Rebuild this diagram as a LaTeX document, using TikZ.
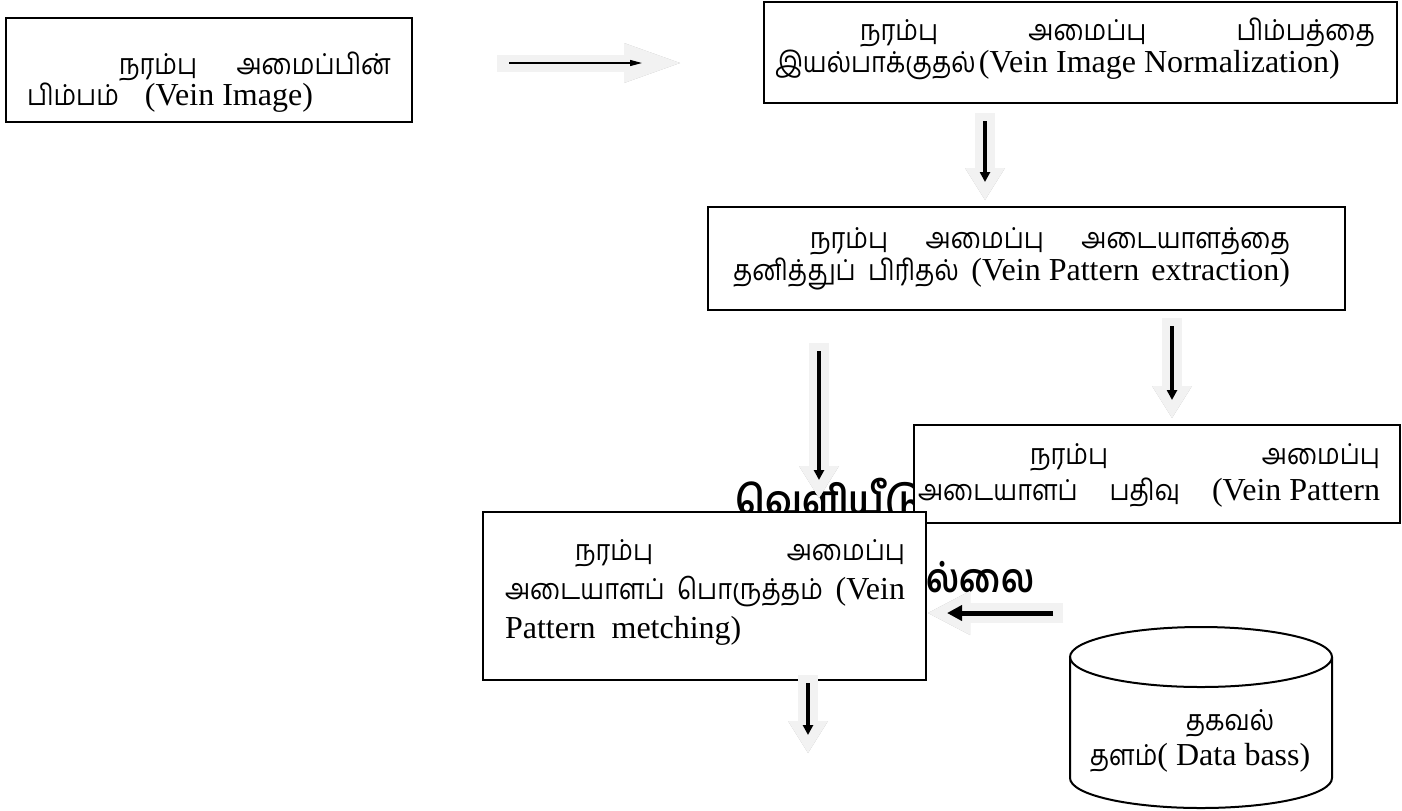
\documentclass[tikz,border=0pt]{standalone}
\usepackage{fontspec}
\usetikzlibrary{arrows.meta}
\setmainfont{Liberation Serif}
\newfontfamily\tamilfont[Script=Tamil,Scale=0.9,FakeStretch=0.88]{Hind Madurai}
\newfontfamily\tamilbig[Script=Tamil,FakeStretch=0.9]{Hind Madurai}
\newcommand\ta[1]{{\tamilfont #1}}
% box text: width, height, left skip, right skip, first baseline, line skip, text
\newcommand\boxtext[7]{\parbox[c][#2][t]{#1}{\fontsize{16}{#6}\selectfont
  \lineskiplimit=-50pt\leftskip=#3\rightskip=#4\relax
  \rule{0pt}{#5}#7}}

\begin{document}
\begin{tikzpicture}[
  x = 0.5pt, y = -0.5pt,
  stage/.style = {
    draw = black,
    line width = 1pt,
    fill = white,
    inner sep = 0pt,
    outer sep = 0pt,
  },
  fat/.style = {
    line width = 10pt,
    draw = black!5,
    -{Triangle[length=16pt, width=20pt, line width=0pt]},
  },
  fatshade/.style = {fat, draw = black!30, shift = {(3, 3)}},
  core/.style = {
    line width = 1.8pt,
    -{Triangle[length=5pt, width=5pt]},
    shorten <= 4pt, shorten >= 9pt,
  }
]
  \useasboundingbox (0, 0) rectangle (1402, 810);

  % text under the boxes
  \node[anchor = north west, inner sep = 0pt, align = left,
    font = \tamilbig\bfseries\fontsize{20}{39}\selectfont] (noout) at (735, 478)
    {வெளியீடு\\\hspace*{77pt}\scalebox{0.92}[1]{இல்லை}};

  \node[stage] (img) at (209, 70)
    {\boxtext{203pt}{52pt}{10.5pt}{10.5pt}{28pt}{15.5pt}{%
      \hspace*{46pt}\ta{நரம்பு}\hfill\ta{அமைப்பின்}\\
      \ta{பிம்பம்}\hspace{13pt}(Vein Image)}};
  \node[stage] (norm) at (1080.5, 52.5)
    {\boxtext{316.5pt}{50.5pt}{5.5pt}{11pt}{19pt}{16pt}{%
      \hspace*{42.5pt}\ta{நரம்பு}\hfill\ta{அமைப்பு}\hfill\ta{பிம்பத்தை}\\
      \ta{இயல்பாக்குதல்}\hspace{1.5pt}(Vein Image Normalization)}};
  \node[stage] (extr) at (1026.5, 258.5)
    {\boxtext{318.5pt}{51.5pt}{12.5pt}{27.5pt}{20.5pt}{16pt}{%
      \hspace*{38.5pt}\ta{நரம்பு}\hfill\ta{அமைப்பு}\hfill\ta{அடையாளத்தை}\\
      \ta{தனித்துப்}\hfill\ta{பிரிதல்}\hfill(Vein Pattern\hspace{6pt}extraction)}};
  \node[stage] (enrol) at (1157, 474)
    {\boxtext{243pt}{49pt}{2pt}{10pt}{19.5pt}{18pt}{%
      \hspace*{56pt}\ta{நரம்பு}\hfill\ta{அமைப்பு}\\
      \ta{அடையாளப்}\hfill\ta{பதிவு}\hfill(Vein Pattern}};
  \node[stage] (match) at (704.5, 596)
    {\boxtext{221.5pt}{84pt}{11pt}{10.5pt}{24pt}{19.5pt}{%
      \hspace*{35pt}\ta{நரம்பு}\hfill\ta{அமைப்பு}\\
      \ta{அடையாளப்}\hfill\ta{பொருத்தம்}\hfill(Vein\\
      Pattern\hspace{8pt}metching)}};

  % data store
  \draw[line width = 1pt] (1070, 657) -- (1070, 778)
    arc[start angle = 180, end angle = 0, x radius = 131, y radius = 30]
    -- (1332, 657);
  \draw[line width = 1pt] (1201, 657) ellipse [x radius = 131, y radius = 30];
  \node[align = center, font = \fontsize{16}{17.5}\selectfont] (db) at (1200, 741)
    {\hspace*{30pt}\ta{தகவல்}\\\ta{தளம்}( Data bass)};

  \coordinate (r1a) at (497, 63);
  \coordinate (r1b) at (680, 63);
  \coordinate (d1a) at (985, 113);
  \coordinate (d1b) at (985, 200);
  \coordinate (d2a) at (819, 343);
  \coordinate (d2b) at (819, 498);
  \coordinate (d3a) at (1172, 318);
  \coordinate (d3b) at (1172, 418);
  \coordinate (d4a) at (808, 675);
  \coordinate (d4b) at (808, 753);
  \coordinate (l1a) at (1063, 613);
  \coordinate (l1b) at (928, 613);

  \foreach \a/\b in {d1a/d1b, d2a/d2b, d3a/d3b, d4a/d4b} {
    \draw[fatshade] (\a) -- (\b);
    \draw[fat] (\a) -- (\b);
    \draw[core] (\a) -- (\b);
  }

  \begin{scope}[fat/.append style = {line width = 8.5pt,
      -{Triangle[length=28pt, width=20pt, line width=0pt]}}]
    \draw[fatshade] (r1a) -- (r1b);
    \draw[fat] (r1a) -- (r1b);
  \end{scope}
  \draw[line width = 0.6pt, -{Triangle[length=6pt, width=3pt]},
    shorten <= 6pt, shorten >= 19pt] (r1a) -- (r1b);

  \begin{scope}[fat/.append style = {
      -{Triangle[length=21pt, width=22pt, line width=0pt]}}]
    \draw[fatshade] (l1a) -- (l1b);
    \draw[fat] (l1a) -- (l1b);
  \end{scope}
  \draw[line width = 2.5pt, -{Triangle[length=7.5pt, width=7.5pt]},
    shorten <= 5pt, shorten >= 9.5pt] (l1a) -- (l1b);
\end{tikzpicture}
\end{document}
